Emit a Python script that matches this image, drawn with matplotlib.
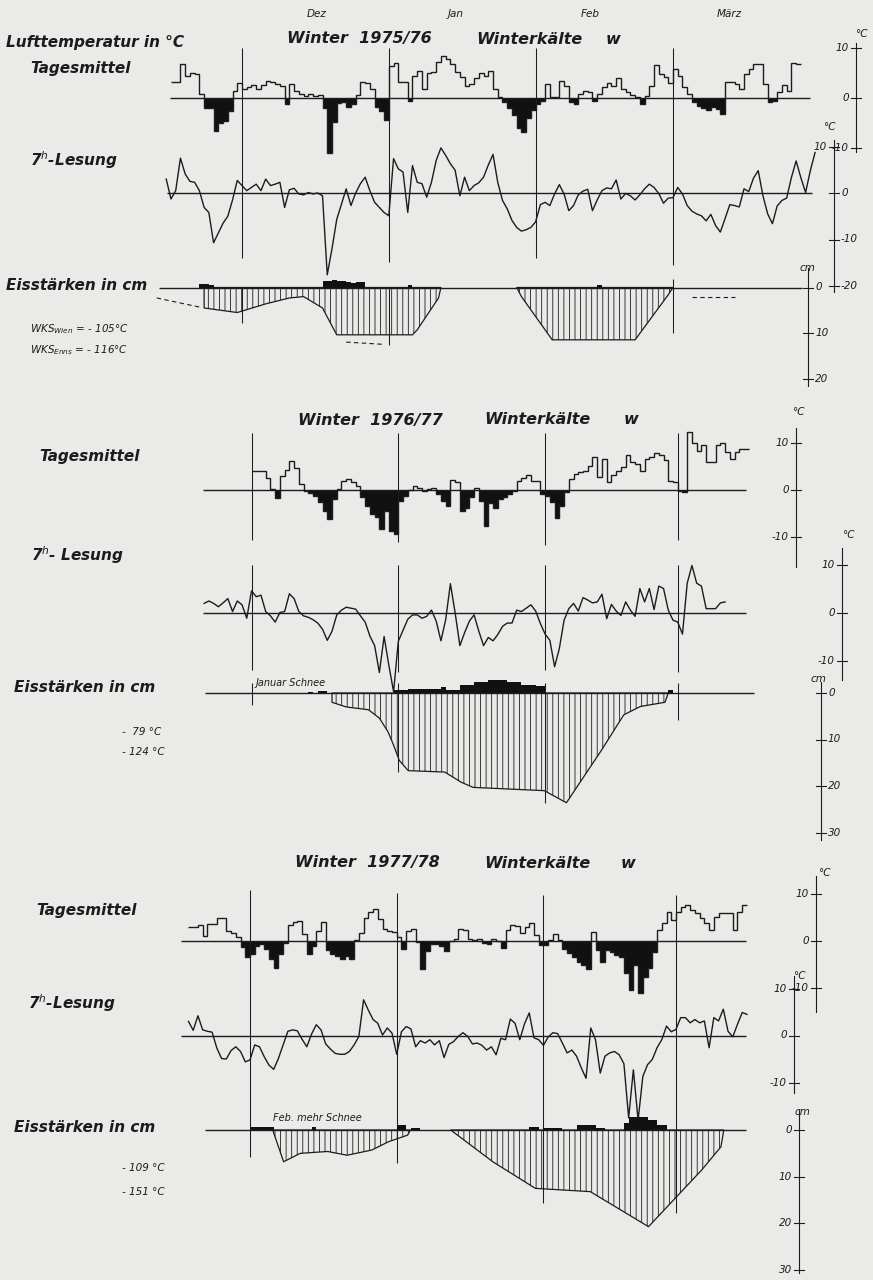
import matplotlib
matplotlib.use('Agg')
import matplotlib.pyplot as plt
import matplotlib.transforms as mtransforms
import numpy as np

## ----------------------------------------------------------------------------
## Data (days counted from 1 Dec, lists run month by month)
## ----------------------------------------------------------------------------
month_names = ['Dez', 'Jan', 'Feb', 'März']

# Winter 1975/76 - Tagesmittel from 16 Nov, 7h-Lesung from 15 Nov
tm76_nov = [3.2, 3.2, 6.8, 4.5, 5.0, 4.8, 0.9, -2.0, -2.0, -6.5, -5.0, -4.5, -2.5, 1.5, 3.0]
tm76_dec = [1.9, 2.2, 2.6, 1.9, 2.6, 3.5, 3.2, 2.8, 2.5, -1.1, 2.9, 1.5, 0.9, 0.5, 0.9, 0.4,
            0.7, -2.0, -11.0, -4.8, -1.0, -0.8, -1.8, -1.2, 0.6, 3.2, 3.0, 1.9, -1.8, -2.5, -4.3]
tm76_jan = [6.5, 7.0, 3.2, 3.2, -0.5, 4.5, 5.5, 1.9, 5.0, 5.3, 7.2, 8.5, 7.8, 6.8, 5.2, 4.2,
            2.5, 2.8, 4.0, 5.0, 4.4, 5.4, 1.8, 0.2, -0.8, -2.0, -3.4, -6.0, -6.7, -4.0, -2.4]
tm76_feb = [-1.1, -0.5, 2.8, 0.2, 0.3, 3.5, 2.5, -0.8, -1.2, 0.8, 1.5, 1.2, -0.6, 0.9, 2.2,
            3.1, 2.5, 4.1, 1.8, 1.2, 0.6, 0.2, -1.1, 0.5, 2.5, 6.7, 4.8, 4.2, 3.1]
tm76_mar = [5.9, 4.4, 2.2, 0.8, -0.8, -1.6, -2.0, -2.4, -1.8, -2.2, -3.1, 3.3, 3.2, 2.8,
            1.8, 4.8, 5.8, 6.9, 6.9, 2.8, -0.8, -0.5, 1.2, 2.6, 1.5, 7.0, 6.8]

h76_nov = [3.0, -1.3, 0.5, 7.5, 4.1, 2.5, 2.3, 0.5, -3.1, -4.2, -10.7, -8.6, -6.5, -5.0, -1.5, 2.7]
h76_dec = [1.6, 0.5, 1.2, 1.9, 0.5, 3.0, 1.6, 1.9, 2.3, -3.1, 0.7, 1.0, -0.2, -0.4, 0.1, -0.2,
           0.0, -0.6, -17.6, -12.0, -5.7, -2.4, 0.9, -2.7, 0.0, 2.0, 3.4, 0.5, -2.0, -3.1, -4.2]
h76_jan = [-4.9, 7.4, 5.2, 4.5, -4.2, 5.9, 2.3, 2.0, -0.9, 2.3, 7.0, 9.7, 8.1, 6.3, 4.9, -0.6,
           3.4, 0.5, 1.6, 2.2, 3.4, 6.0, 8.3, 2.3, -1.6, -3.4, -5.9, -7.4, -8.2, -7.9, -7.4]
h76_feb = [-6.2, -2.5, -2.0, -2.7, -0.2, 1.8, -0.2, -3.8, -2.7, -0.4, 0.4, 0.8, -3.8, -1.5,
           0.5, 1.1, 0.9, 2.8, -1.3, -0.1, -0.6, -1.5, -0.4, 0.9, 1.9, 1.2, -0.1, -2.2, -1.1]
h76_mar = [-1.0, 1.2, -0.2, -2.7, -3.9, -4.5, -4.9, -6.0, -4.6, -7.0, -8.4, -5.5, -2.5, -2.7,
           -3.0, 0.9, 0.3, 3.2, 4.8, -0.6, -4.5, -6.6, -2.8, -1.6, -1.1, 3.3, 6.9, 3.3, 0.1, 4.8, 8.7]

ice76a_day = [-8, -8, -1, 5, 10, 13, 17, 20, 36, 37, 41.5, 42]
ice76a_cm = [0, 4.5, 5.5, 3.6, 2.3, 2.0, 4.5, 10.4, 10.4, 9.3, 2.3, 0]
ice76b_day = [58, 59, 65.5, 83, 90, 91]
ice76b_cm = [0, 2.0, 11.5, 11.5, 1.6, 0]
snow76_day = [-9, -8, -7, 17, 18, 19, 20, 21, 22, 23, 24, 25, 35, 75]
snow76_cm = [0.8, 0.8, 0.6, 1.5, 1.5, 1.6, 1.5, 1.5, 1.1, 0.9, 1.3, 1.3, 0.5, 0.5]
dash76_day = [[-18, -9], [22, 30], [95, 104]]
dash76_cm = [[2.3, 4.3], [12.0, 12.5], [2.1, 2.1]]

# Winter 1976/77 - Tagesmittel from 1 Dec, 7h-Lesung from 21 Nov
tm77_dec = [4.0, 4.0, 4.0, 2.6, 0.3, -1.6, 3.0, 4.2, 6.2, 4.6, 1.2, -0.3, -0.7, -1.2, -2.5, -4.5,
            -6.2, -2.0, 0.3, 1.9, 2.3, 1.8, 0.8, -1.5, -3.5, -5.0, -5.8, -8.4, -4.5, -8.7, -9.4]
tm77_jan = [-2.3, -1.3, 0.0, 0.9, 0.5, -0.2, 0.2, 0.5, -0.9, -2.4, -3.4, 2.1, 1.8, -4.5, -3.8,
            -1.5, 0.5, -2.3, -7.7, -2.7, -3.8, -2.0, -1.5, -0.9, -0.3, 1.9, 2.6, 3.1, 1.9, 2.0, -0.9]
tm77_feb = [-1.2, -2.6, -5.9, -3.4, -0.5, 2.4, 3.4, 3.8, 4.1, 5.2, 7.1, 2.7, 6.6, 1.6, 3.1,
            4.1, 4.9, 7.4, 5.9, 5.6, 4.1, 6.6, 7.0, 7.9, 7.4, 6.4, 2.0, 1.6]
tm77_mar = [-0.3, -0.5, 12.3, 9.9, 8.4, 9.5, 5.9, 5.9, 9.5, 9.9, 8.1, 6.6, 8.1, 8.8, 8.8]

h77_nov = [1.9, 2.4, 1.9, 1.2, 2.0, 2.9, 0.2, 2.4, 1.6, -1.2]
h77_dec = [4.5, 3.3, 3.6, 0.2, -0.7, -2.0, 0.0, 0.2, 3.9, 2.9, 0.2, -0.7, -1.0, -1.5, -2.2, -3.5,
           -5.8, -3.9, -0.5, 0.5, 1.1, 0.9, 0.7, -0.7, -2.0, -4.9, -6.9, -12.5, -5.0, -11.0, -16.5]
h77_jan = [-6.0, -3.7, -1.4, -0.5, -0.5, -1.2, -0.8, 0.5, -1.8, -5.9, -1.5, 6.0, -0.1, -6.9, -4.2,
           -1.8, -0.5, -3.9, -6.9, -5.2, -5.9, -4.6, -2.9, -2.2, -2.2, 0.5, 0.2, 0.9, 1.6, 0.3, -2.3]
h77_feb = [-4.5, -5.8, -11.3, -7.5, -1.6, 0.8, 1.9, 0.3, 3.1, 2.6, 2.0, 2.2, 3.8, -1.3, 1.7,
           0.3, -0.6, 2.2, 0.5, -0.8, 5.0, 2.2, 5.0, 0.6, 5.5, 5.0, 0.5, -1.6]
h77_mar = [-2.0, -4.5, 6.1, 9.8, 6.1, 5.5, 0.8, 0.8, 0.8, 2.0, 2.2]

ice77_day = [17, 17, 20, 24.7, 27, 28.8, 30, 31.2, 33.1, 40.8, 44.3, 46.8, 61.8, 66.5,
             69.9, 73.9, 78.6, 82.1, 87.3, 88]
ice77_cm = [0, 2.0, 3.0, 3.6, 5.4, 8.3, 11.2, 14.5, 16.7, 17.0, 19.2, 20.3, 21.0, 23.6,
            18.4, 12.3, 4.7, 2.9, 2.0, 0]
snow77_day = [12, 14, 15, 30, 31, 32, 33, 34, 35, 36, 37, 38, 39, 40, 41, 42, 43, 44, 45, 46,
              47, 48, 49, 50, 51, 52, 53, 54, 55, 56, 57, 58, 59, 60, 61, 88]
snow77_cm = [0.2, 0.5, 0.5, 0.6, 0.6, 0.6, 0.9, 0.9, 0.9, 0.9, 0.9, 0.9, 0.9, 1.3, 0.7, 0.7,
             0.7, 1.8, 1.8, 1.8, 2.3, 2.3, 2.3, 2.9, 2.9, 2.9, 2.9, 2.3, 2.3, 2.3, 1.8, 1.8,
             1.8, 1.4, 1.4, 0.7]

# Winter 1977/78 - both series from 18 Nov
tm78_nov = [2.9, 3.0, 3.3, 1.1, 3.6, 3.6, 4.8, 4.8, 2.2, 1.8, 0.8, -1.3, -3.5]
tm78_dec = [-2.8, -1.0, -0.6, -1.7, -3.8, -5.8, -2.8, -0.5, 3.4, 4.1, 4.3, 1.5, -2.8, -1.0, 2.2,
            4.1, -2.0, -2.8, -3.1, -3.8, -3.1, -3.8, 0.2, 1.8, 5.0, 6.2, 6.8, 4.7, 2.6, 2.2, 2.0]
tm78_jan = [0.8, -1.7, 2.2, 2.6, -0.3, -6.0, -2.1, -0.6, -0.6, -1.0, -2.1, 0.1, 0.4, 2.6, 2.4,
            0.4, 0.2, 0.4, -0.5, -0.7, 0.4, 0.1, -1.4, 2.4, 3.3, 3.1, 1.8, 3.0, 3.8, 1.3, -0.8]
tm78_feb = [-0.9, 0.2, 1.5, 0.3, -1.6, -2.6, -3.3, -4.4, -5.1, -6.0, 2.0, -1.9, -4.4, -1.9,
            -2.3, -3.0, -3.3, -6.9, -10.4, -5.1, -11.1, -7.6, -5.8, -2.3, 2.3, 3.8, 6.2, 4.5]
tm78_mar = [6.2, 7.3, 7.7, 6.6, 5.9, 4.8, 3.8, 2.3, 5.2, 5.9, 5.9, 5.9, 2.3, 6.2, 7.7]

h78_nov = [3.0, 1.1, 4.2, 1.2, 0.9, 0.7, -2.7, -4.9, -5.0, -3.2, -2.4, -3.4, -5.6]
h78_dec = [-5.2, -2.0, -2.4, -4.5, -6.3, -7.2, -4.9, -2.0, 0.9, 1.2, 1.0, -0.8, -2.4, 0.3, 2.3,
           1.2, -1.8, -2.9, -3.8, -4.0, -4.0, -3.4, -2.0, -0.2, 7.6, 5.4, 3.4, 2.6, 0.1, 1.6, 0.5]
h78_jan = [-4.0, 0.8, 1.9, 1.4, -2.4, -1.1, -1.6, -0.9, -2.0, -1.1, -4.7, -1.9, -1.3, -0.2, 0.6,
           -0.2, -1.8, -1.6, -2.1, -3.1, -2.4, -4.1, -0.6, -0.9, 3.5, 2.6, -0.9, 2.5, 4.8, -0.5, -0.9]
h78_feb = [-2.1, -0.3, 0.6, 0.4, -1.6, -3.7, -3.1, -4.4, -6.9, -9.1, 1.6, -0.9, -8.0, -4.4,
           -3.7, -3.4, -4.1, -6.0, -17.5, -7.3, -18.0, -8.7, -6.2, -5.1, -2.6, -0.9, 2.0, 0.8]
h78_mar = [1.3, 3.8, 3.8, 2.7, 3.4, 2.7, 3.1, -2.6, 3.8, 3.1, 5.6, 0.9, -0.3, 2.4, 4.9, 4.5]

ice78a_day = [4.8, 7.1, 10.6, 16.4, 20.5, 25.7, 29.3, 33.3, 33.9]
ice78a_cm = [0, 6.8, 5.0, 4.6, 5.4, 4.3, 2.5, 1.1, 0]
ice78b_day = [42.4, 51.3, 60.3, 71.9, 84.2, 95.4, 99.5, 100.1]
ice78b_cm = [0, 6.8, 12.5, 13.2, 20.7, 8.6, 3.6, 0]
snow78_day = [0, 1, 2, 3, 4, 13, 31, 32, 34, 35, 59, 60, 62, 63, 64, 65, 69, 70, 71, 72, 73, 74,
              79, 80, 81, 82, 83, 84, 85, 86, 87]
snow78_cm = [0.6, 0.6, 0.6, 0.6, 0.6, 0.7, 1.0, 1.0, 0.5, 0.5, 0.7, 0.7, 0.4, 0.4, 0.4, 0.4,
             1.0, 1.0, 1.0, 1.0, 0.4, 0.4, 1.4, 2.7, 2.7, 2.7, 2.7, 2.1, 2.1, 1.1, 1.1]

# scale ticks
temp_ticks = [10, 0, -10]
temp_ticks_long = [10, 0, -10, -20]
ice_ticks_20 = [0, 10, 20]
ice_ticks_30 = [0, 10, 20, 30]

## ----------------------------------------------------------------------------
## Layout (pixels of the 873x1280 page)
## ----------------------------------------------------------------------------
W, H = 873, 1280
INK = '#1c1c1c'
PAPER = '#eaeae8'
BOLD = dict(fontstyle='italic', fontweight='bold', color=INK, family='DejaVu Sans')
SMALL = dict(fontstyle='italic', color=INK, family='DejaVu Sans')


def px2fig(x, y):
    return x / W, 1 - y / H


def make_axes(fig, x_dec, ppd, zero, ppu):
    ## one transparent axes over the whole page, scaled so data land on the scan grid
    ax = fig.add_axes([0, 0, 1, 1])
    ax.set_xlim(-x_dec / ppd, (W - x_dec) / ppd)
    ax.set_ylim((zero - H) / ppu, zero / ppu)
    ax.axis('off')
    ax.patch.set_alpha(0)
    ax.conv = lambda py: (zero - py) / ppu
    ax.dconv = lambda px: (px - x_dec) / ppd
    return ax


def draw_scale(fig, ax, x, y0, y1, ticks, sides, unit, unit_xy, down=False):
    ## vertical scale bar at the right; ice scales count downwards
    trans = mtransforms.blended_transform_factory(fig.transFigure, ax.transData)
    xf = x / W
    ax.plot([xf, xf], [ax.conv(y0), ax.conv(y1)], color=INK, lw=0.8, transform=trans)
    for t, s in zip(ticks, sides):
        pos = -t if down else t
        ax.plot([xf - 5 / W, xf + 5 / W], [pos, pos], color=INK, lw=0.8, transform=trans)
        if s == 'l':
            ax.text(xf - 7 / W, pos, str(t), ha='right', va='center', fontsize=7.5,
                    transform=trans, **SMALL)
        else:
            ax.text(xf + 7 / W, pos, str(t), ha='left', va='center', fontsize=7.5,
                    transform=trans, **SMALL)
    fx, fy = px2fig(*unit_xy)
    fig.text(fx, fy, unit, ha='center', va='center', fontsize=7.5, **SMALL)


def draw_tagesmittel(ax, start, vals, x0, x1):
    edges = np.arange(start, start + len(vals) + 1)
    v = np.array(vals)
    ax.hlines(0, ax.dconv(x0), ax.dconv(x1), color=INK, lw=1.0)
    ax.stairs(np.minimum(v, 0), edges, baseline=0, fill=True, color='#111111', lw=0)
    ax.stairs(v, edges, baseline=None, color=INK, lw=1.0)


def draw_lesung(ax, start, vals, x0, x1):
    days = np.arange(start, start + len(vals))
    ax.hlines(0, ax.dconv(x0), ax.dconv(x1), color=INK, lw=1.0)
    ax.plot(days, vals, color=INK, lw=1.0)


def draw_ice(ax, blocks, snow_day, snow_cm, x0, x1):
    ax.hlines(0, ax.dconv(x0), ax.dconv(x1), color=INK, lw=1.0)
    for d, c in blocks:
        ax.fill_between(d, 0, -np.array(c), facecolor='none', edgecolor=INK,
                        hatch='|||', lw=0.9)
    ax.bar(snow_day, snow_cm, width=1, align='edge', color='#111111', lw=0)


def month_lines(ax, offsets, y0, y1):
    ys = [(ax.conv(a), ax.conv(b)) for a, b in zip(y0, y1)]
    for m, (lo, hi) in zip(offsets, ys):
        ax.vlines(m, lo, hi, color=INK, lw=0.75)


def label(fig, x, y, s, size=11, style=BOLD, ha='left'):
    fx, fy = px2fig(x, y)
    fig.text(fx, fy, s, ha=ha, va='center', fontsize=size, **style)


def title(fig, y, x1, x2, x3, years):
    label(fig, x1, y, 'Winter  ' + years, 11.5)
    label(fig, x2, y, 'Winterkälte', 11.5)
    label(fig, x3, y, 'w', 11.5)


## ----------------------------------------------------------------------------
## Main
## ----------------------------------------------------------------------------
def main():
    plt.rcParams['hatch.linewidth'] = 0.6
    fig = plt.figure(figsize=(W / 100, H / 100), dpi=100, facecolor=PAPER)

    ## ---- winter 1975/76 ----
    x_dec, ppd = 242, 4.736
    off76 = [0, 31, 62, 91]
    ta = make_axes(fig, x_dec, ppd, 98, 5.0)
    ha = make_axes(fig, x_dec, ppd, 193, 4.65)
    ia = make_axes(fig, x_dec, ppd, 287.5, 4.55)
    draw_tagesmittel(ta, -len(tm76_nov), tm76_nov + tm76_dec + tm76_jan + tm76_feb + tm76_mar, 170, 810)
    draw_lesung(ha, -len(h76_nov), h76_nov + h76_dec + h76_jan + h76_feb + h76_mar, 167, 812)
    draw_ice(ia, [(ice76a_day, ice76a_cm), (ice76b_day, ice76b_cm)], snow76_day, snow76_cm, 159, 802)
    for d, c in zip(dash76_day, dash76_cm):
        ia.plot(d, -np.array(c), color=INK, lw=0.8, ls=(0, (4, 3)))
    month_lines(ta, off76, [48, 48, 48, 48], [258, 262, 258, 265])
    month_lines(ia, [0, 31, 91], [287, 287, 279], [323, 345, 333])
    for m, x in zip(month_names, [317, 456, 590, 729]):
        label(fig, x, 14, m, 7.5, SMALL, 'center')
    draw_scale(fig, ta, 856, 43, 152, temp_ticks, 'lll', '°C', (861, 34))
    draw_scale(fig, ha, 834, 140, 292, temp_ticks_long, 'lrrr', '°C', (829, 127))
    draw_scale(fig, ia, 808, 268, 386, ice_ticks_20, 'rrr', 'cm', (807, 268), down=True)
    title(fig, 39, 287, 476, 606, '1975/76')
    label(fig, 6, 43, 'Lufttemperatur in °C')
    label(fig, 30, 68, 'Tagesmittel')
    label(fig, 30, 160, '7$^{h}$-Lesung')
    label(fig, 6, 286, 'Eisstärken in cm')
    label(fig, 30, 329, 'WKS$_{Wien}$ = - 105°C', 7.5, SMALL)
    label(fig, 30, 350, 'WKS$_{Enns}$ = - 116°C', 7.5, SMALL)

    ## ---- winter 1976/77 ----
    x_dec, ppd = 251.5, 4.736
    off = [0, 31, 62, 90]
    ta = make_axes(fig, x_dec, ppd, 490, 4.7)
    ha = make_axes(fig, x_dec, ppd, 612.5, 4.8)
    ia = make_axes(fig, x_dec, ppd, 693, 4.65)
    draw_tagesmittel(ta, 0, tm77_dec + tm77_jan + tm77_feb + tm77_mar, 203, 746)
    draw_lesung(ha, -len(h77_nov), h77_nov + h77_dec + h77_jan + h77_feb + h77_mar, 203, 746)
    draw_ice(ia, [(ice77_day, ice77_cm)], snow77_day, snow77_cm, 205, 754)
    month_lines(ta, off, [433, 433, 433, 433], [540, 542, 545, 540])
    month_lines(ha, off, [565, 565, 565, 565], [670, 672, 670, 672])
    month_lines(ia, off, [683, 683, 683, 683], [705, 772, 803, 720])
    draw_scale(fig, ta, 796, 428, 567, temp_ticks, 'lll', '°C', (798, 412))
    draw_scale(fig, ha, 842, 548, 680, temp_ticks, 'lll', '°C', (848, 535))
    draw_scale(fig, ia, 821, 682, 840, ice_ticks_30, 'rrrr', 'cm', (818, 679), down=True)
    title(fig, 420, 298, 484, 624, '1976/77')
    label(fig, 39, 457, 'Tagesmittel')
    label(fig, 31, 555, '7$^{h}$- Lesung')
    label(fig, 14, 688, 'Eisstärken in cm')
    label(fig, 256, 683, 'Januar Schnee', 7, SMALL)
    label(fig, 122, 732, '-  79 °C', 7.5, SMALL)
    label(fig, 122, 752, '- 124 °C', 7.5, SMALL)

    ## ---- winter 1977/78 ----
    x_dec, ppd = 250, 4.733
    ta = make_axes(fig, x_dec, ppd, 941, 4.7)
    ha = make_axes(fig, x_dec, ppd, 1035.5, 4.7)
    ia = make_axes(fig, x_dec, ppd, 1130, 4.67)
    draw_tagesmittel(ta, -len(tm78_nov), tm78_nov + tm78_dec + tm78_jan + tm78_feb + tm78_mar, 181, 746)
    draw_lesung(ha, -len(h78_nov), h78_nov + h78_dec + h78_jan + h78_feb + h78_mar, 181, 746)
    draw_ice(ia, [(ice78a_day, ice78a_cm), (ice78b_day, ice78b_cm)], snow78_day, snow78_cm, 205, 746)
    month_lines(ta, off, [890, 893, 895, 895], [1157, 1163, 1203, 1213])
    draw_scale(fig, ta, 816, 876, 1012, temp_ticks, 'lll', '°C', (824, 873))
    draw_scale(fig, ha, 794, 976, 1093, temp_ticks, 'lll', '°C', (799, 976))
    draw_scale(fig, ia, 799, 1110, 1273, ice_ticks_30, 'llll', 'cm', (802, 1112), down=True)
    title(fig, 863, 295, 484, 621, '1977/78')
    label(fig, 36, 910, 'Tagesmittel')
    label(fig, 28, 1003, '7$^{h}$-Lesung')
    label(fig, 14, 1127, 'Eisstärken in cm')
    label(fig, 273, 1118, 'Feb. mehr Schnee', 7, SMALL)
    label(fig, 122, 1168, '- 109 °C', 7.5, SMALL)
    label(fig, 122, 1192, '- 151 °C', 7.5, SMALL)

    fig.savefig('out.png', dpi=100, facecolor=PAPER)


if __name__ == "__main__":
    main()
